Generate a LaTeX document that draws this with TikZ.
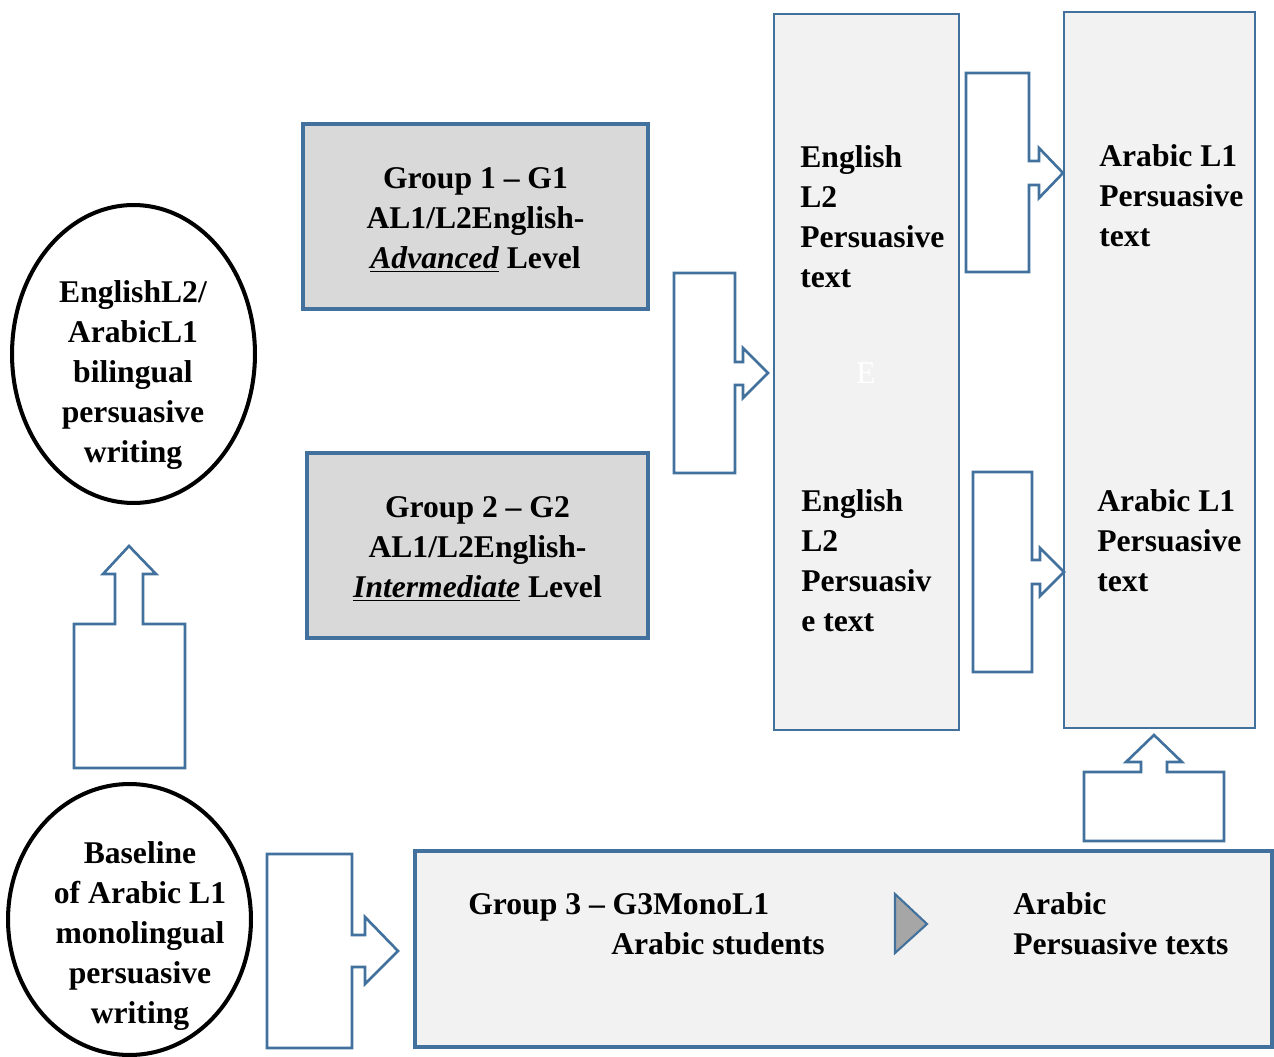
\documentclass[tikz,border=0pt]{standalone}
\usepackage{fontspec}
\setmainfont{Liberation Serif}
\usetikzlibrary{shapes.geometric,positioning}
\definecolor{boxblue}{RGB}{65,113,156}
\definecolor{boxgray}{RGB}{217,217,217}
\definecolor{panelgray}{RGB}{242,242,242}
\definecolor{tipgray}{RGB}{166,166,166}
\newcommand{\txtfont}{\fontsize{18}{22.8}\selectfont\bfseries}
\newcommand{\thickul}[1]{\underline{#1}}
\tikzset{
    % shaded group boxes
    grpbox/.style={
        draw=boxblue,
        line width=2.7pt,
        fill=boxgray,
        inner sep=0pt
    },
    panelbox/.style={
        draw=boxblue,
        line width=1.1pt,
        fill=panelgray,
        inner sep=0pt
    },
    blockarrow/.style={
        draw=boxblue,
        line width=1.5pt,
        fill=white,
        line join=miter
    },
    oval/.style={
        ellipse,
        draw=black,
        line width=2.3pt,
        inner sep=0pt
    },
    txt/.style={
        font=\txtfont,
        inner sep=0pt
    }
}

\begin{document}
\begin{tikzpicture}[x=0.02cm, y=-0.02cm]
        \useasboundingbox (0,0) rectangle (1274,1057);

        % two tall panels
        \node[panelbox, minimum width=3.7cm, minimum height=14.32cm] (engpanel) at (866.5,372) {};
        \node[panelbox, minimum width=3.82cm, minimum height=14.32cm] (arbpanel) at (1159.5,370) {};

        % group boxes
        \node[grpbox, minimum width=6.9cm, minimum height=3.7cm] (g1) at (475.5,216.5) {};
        \node[grpbox, minimum width=6.82cm, minimum height=3.7cm] (g2) at (477.5,545.5) {};
        \node[grpbox, fill=panelgray, minimum width=17.14cm, minimum height=3.92cm] (g3) at (843.5,949) {};

        % ovals
        \node[oval, minimum width=4.86cm, minimum height=5.96cm] (bil) at (133.5,354) {};
        \node[oval, minimum width=4.86cm, minimum height=5.42cm] (base) at (129.5,919.5) {};

        % block arrows
        \draw[blockarrow] (674,273) -- (735,273) -- (735,362) -- (743,362) -- (743,348) -- (768,373)
            -- (743,398) -- (743,385) -- (735,385) -- (735,473) -- (674,473) -- cycle;
        \draw[blockarrow] (966,73) -- (1029,73) -- (1029,161) -- (1039,161) -- (1039,148) -- (1063,173)
            -- (1039,198) -- (1039,185) -- (1029,185) -- (1029,272) -- (966,272) -- cycle;
        \draw[blockarrow] (973,472) -- (1032,472) -- (1032,560) -- (1040,560) -- (1040,548) -- (1064,572)
            -- (1040,596) -- (1040,584) -- (1032,584) -- (1032,672) -- (973,672) -- cycle;
        \draw[blockarrow] (74,768) -- (74,624) -- (115,624) -- (115,574) -- (103,574) -- (129,546)
            -- (156,574) -- (143,574) -- (143,624) -- (185,624) -- (185,768) -- cycle;
        \draw[blockarrow] (267,854) -- (352,854) -- (352,935) -- (365,935) -- (365,917) -- (398,951)
            -- (365,984) -- (365,967) -- (352,967) -- (352,1048) -- (267,1048) -- cycle;
        \draw[blockarrow] (1084,841) -- (1084,772) -- (1141,772) -- (1141,762) -- (1126,762) -- (1154,735)
            -- (1182,762) -- (1167,762) -- (1167,772) -- (1224,772) -- (1224,841) -- cycle;

        % small triangle in group 3
        \draw[draw=boxblue, line width=1.2pt, fill=tipgray, line join=miter]
            (895,894) -- (927,924) -- (895,953) -- cycle;

        % texts
        \node[txt, align=center] (g1txt) at (475.5,220) {Group 1 -- G1\\AL1/L2English-\\\thickul{\textit{Advanced}} Level};
        \node[txt, align=center] (g2txt) at (477.5,549) {Group 2 -- G2\\AL1/L2English-\\\thickul{\textit{Intermediate}} Level};
        \node[txt, align=center] (biltxt) at (133,375) {EnglishL2/\\ArabicL1\\bilingual\\persuasive\\writing};
        \node[txt, align=center] (basetxt) at (140,936) {Baseline\\of Arabic L1\\monolingual\\persuasive\\writing};

        \node[txt, align=left, anchor=west] (eng1) at (800,217) {English\\L2\\Persuasive\\text};
        \node[font=\fontsize{18}{22.8}\selectfont, text=white] (emark) at (866,373) {E};
        \node[txt, align=left, anchor=west] (eng2) at (801,561) {English\\L2\\Persuasiv\\e text};
        \node[txt, align=left, anchor=west] (arb1) at (1099,196) {Arabic L1\\Persuasive\\text};
        \node[txt, align=left, anchor=west] (arb2) at (1097,541) {Arabic L1\\Persuasive\\text};

        \node[txt, align=left, anchor=west] (g3txt) at (468,924) {Group 3 -- G3MonoL1\\\hspace*{2.86cm}Arabic students};
        \node[txt, align=left, anchor=west] (g3out) at (1013,923.5) {Arabic\\Persuasive texts};

\end{tikzpicture}
\end{document}
